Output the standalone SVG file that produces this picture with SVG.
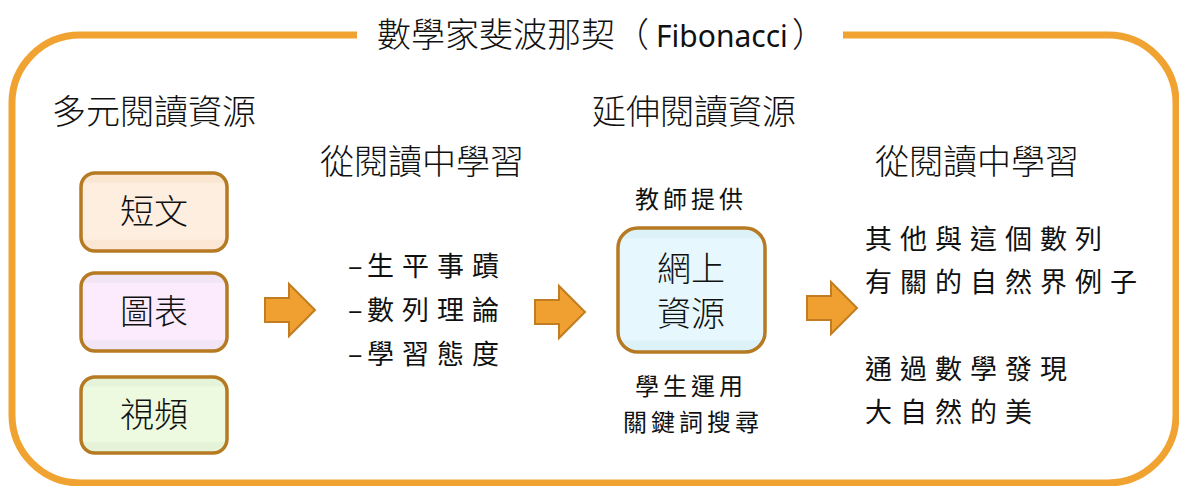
<svg xmlns="http://www.w3.org/2000/svg" width="1179" height="486" viewBox="0 0 1179 486">
<defs>
<style>
.thin{font-family:"Noto Sans CJK TC","Noto Sans",sans-serif;font-weight:300;fill:#111;}
.kai{font-family:"Noto Sans CJK TC","Noto Sans",sans-serif;font-weight:400;fill:#111;}
.latin{font-family:"Noto Sans","Open Sans",sans-serif;font-weight:400;}
.box{stroke:#B57A22;stroke-width:3.5;}
.arrow{fill:#F0A030;stroke:#C27D22;stroke-width:2;stroke-linejoin:miter;}
</style>
<linearGradient id="gOrange" x1="0" y1="0" x2="0" y2="1">
<stop offset="0" stop-color="#FBE6D2"/><stop offset="0.12" stop-color="#FBE6D2"/><stop offset="0.13" stop-color="#FDEEDF"/><stop offset="0.85" stop-color="#FDEEDF"/><stop offset="0.86" stop-color="#FBE7D3"/><stop offset="1" stop-color="#FBE7D3"/>
</linearGradient>
<linearGradient id="gPink" x1="0" y1="0" x2="0" y2="1">
<stop offset="0" stop-color="#F2E5F5"/><stop offset="0.12" stop-color="#F2E5F5"/><stop offset="0.13" stop-color="#FCEBFC"/><stop offset="0.85" stop-color="#FCEBFC"/><stop offset="0.86" stop-color="#F2E5F5"/><stop offset="1" stop-color="#F2E5F5"/>
</linearGradient>
<linearGradient id="gGreen" x1="0" y1="0" x2="0" y2="1">
<stop offset="0" stop-color="#E5F4D8"/><stop offset="0.12" stop-color="#E5F4D8"/><stop offset="0.13" stop-color="#EDFADF"/><stop offset="0.85" stop-color="#EDFADF"/><stop offset="0.86" stop-color="#E5F4D8"/><stop offset="1" stop-color="#E5F4D8"/>
</linearGradient>
<linearGradient id="gCyan" x1="0" y1="0" x2="0" y2="1">
<stop offset="0" stop-color="#DDF2F8"/><stop offset="0.08" stop-color="#DDF2F8"/><stop offset="0.09" stop-color="#E6F8FD"/><stop offset="0.9" stop-color="#E6F8FD"/><stop offset="0.91" stop-color="#DDF2F8"/><stop offset="1" stop-color="#DDF2F8"/>
</linearGradient>
<path id="arr" d="M0,14 H24 V0 L50,26 L24,52 V38 H0 Z"/>
</defs>
<rect width="1179" height="486" fill="#FFFFFF"/>

<g id="frame">
<path d="M357,35 H80 A68,68 0 0 0 12,103 V415 A68,68 0 0 0 80,483 H1108 A68,68 0 0 0 1176,415 V103 A68,68 0 0 0 1108,35 H843" fill="none" stroke="#F1A332" stroke-width="7"/>
<text class="thin" y="47" font-size="34"><tspan x="377">數學家斐波那契（</tspan><tspan x="656" class="latin" font-size="30">Fibonacci</tspan><tspan x="792">）</tspan></text>
</g>

<g id="heading-multi"><text class="thin" x="52" y="124" font-size="34">多元閱讀資源</text></g>
<g id="heading-extend"><text class="thin" x="592" y="124" font-size="34">延伸閱讀資源</text></g>
<g id="heading-learn1"><text class="thin" x="320" y="174" font-size="34">從閱讀中學習</text></g>
<g id="heading-learn2"><text class="thin" x="875" y="174" font-size="34">從閱讀中學習</text></g>

<g id="node-short">
<rect class="box" x="81" y="173" width="146" height="78" rx="14" fill="url(#gOrange)"/>
<text class="thin" x="154" y="224" font-size="34" text-anchor="middle">短文</text>
</g>
<g id="node-chart">
<rect class="box" x="81" y="273" width="146" height="78" rx="14" fill="url(#gPink)"/>
<text class="thin" x="154" y="324" font-size="34" text-anchor="middle">圖表</text>
</g>
<g id="node-video">
<rect class="box" x="81" y="377" width="146" height="76" rx="14" fill="url(#gGreen)"/>
<text class="thin" x="154" y="427" font-size="34" text-anchor="middle">視頻</text>
</g>

<g id="list-learn">
<text class="kai" y="276" font-size="27"><tspan x="348">–</tspan><tspan x="367" letter-spacing="8">生平事蹟</tspan></text>
<text class="kai" y="320" font-size="27"><tspan x="348">–</tspan><tspan x="367" letter-spacing="8">數列理論</tspan></text>
<text class="kai" y="364" font-size="27"><tspan x="348">–</tspan><tspan x="367" letter-spacing="8">學習態度</tspan></text>
</g>

<g id="node-online">
<text class="kai" x="691" y="208" font-size="24" letter-spacing="4" text-anchor="middle">教師提供</text>
<rect class="box" x="618" y="228" width="147" height="124" rx="20" fill="url(#gCyan)"/>
<text class="thin" x="691" y="281" font-size="34" text-anchor="middle">網上</text>
<text class="thin" x="691" y="326" font-size="34" text-anchor="middle">資源</text>
<text class="kai" x="691" y="395" font-size="24" letter-spacing="4" text-anchor="middle">學生運用</text>
<text class="kai" x="693" y="431" font-size="24" letter-spacing="4" text-anchor="middle">關鍵詞搜尋</text>
</g>

<g id="list-result">
<text class="kai" x="865" y="249" font-size="27" letter-spacing="8">其他與這個數列</text>
<text class="kai" x="865" y="292" font-size="27" letter-spacing="8">有關的自然界例子</text>
<text class="kai" x="865" y="379" font-size="27" letter-spacing="8">通過數學發現</text>
<text class="kai" x="865" y="422" font-size="27" letter-spacing="8">大自然的美</text>
</g>

<g id="connectors">
<use href="#arr" class="arrow" x="265" y="284"/>
<use href="#arr" class="arrow" x="535" y="286"/>
<use href="#arr" class="arrow" x="807" y="282"/>
</g>
</svg>
